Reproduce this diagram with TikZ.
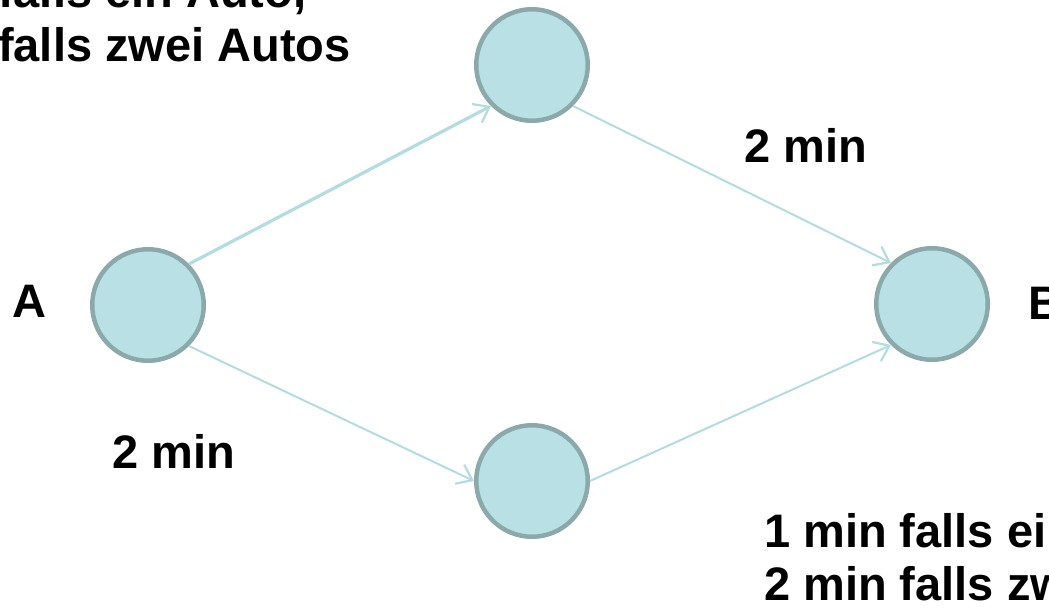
\documentclass[tikz,border=0pt]{standalone}
\usepackage{fontspec}
\setmainfont{Liberation Sans}
\usetikzlibrary{arrows.meta}
\definecolor{nodefill}{HTML}{B9E0E4}
\definecolor{nodeline}{HTML}{8BA9AB}
\definecolor{edgecol}{HTML}{B2DCE1}
\tikzset{
  place/.style={circle, draw=nodeline, fill=nodefill, line width=4.5pt, minimum size=111.5pt, inner sep=0pt, outer sep=2.25pt},
  edge/.style={draw=edgecol, line width=2pt, -{Straight Barb[length=14pt,width=21pt,line width=2.2pt]}},
  thickedge/.style={edge, line width=3.2pt},
  lbl/.style={font=\bfseries\fontsize{47pt}{54pt}\selectfont, inner sep=0pt, anchor=base west}
}
\begin{document}
\begin{tikzpicture}[x=1pt,y=-1pt]
\useasboundingbox (0,0) rectangle (1049,610);
\clip (0,0) rectangle (1049,610);
\node[place] (A) at (148,305) {};
\node[place] (T) at (532,65) {};
\node[place] (D) at (532,481) {};
\node[place] (B) at (932,304) {};
\draw[thickedge] (A.45) -- (T.225);
\draw[edge] (T.-45) -- (B.135);
\draw[edge] (A.-45) -- (D.180);
\draw[edge] (D.0) -- (B.-135);
\node[lbl] (la) at (12,317) {A};
\node[lbl] (lb) at (1028,319) {B};
\node[lbl] (t1) at (-2,8) {falls ein Auto,};
\node[lbl] (t2) at (-2,62) {falls zwei Autos};
\node[lbl] (m1) at (744,162) {2 min};
\node[lbl] (m2) at (112,468) {2 min};
\node[lbl] (b1) at (764,547) {1 min falls ein Auto,};
\node[lbl] (b2) at (764,600) {2 min falls zwei Autos};
\end{tikzpicture}
\end{document}
